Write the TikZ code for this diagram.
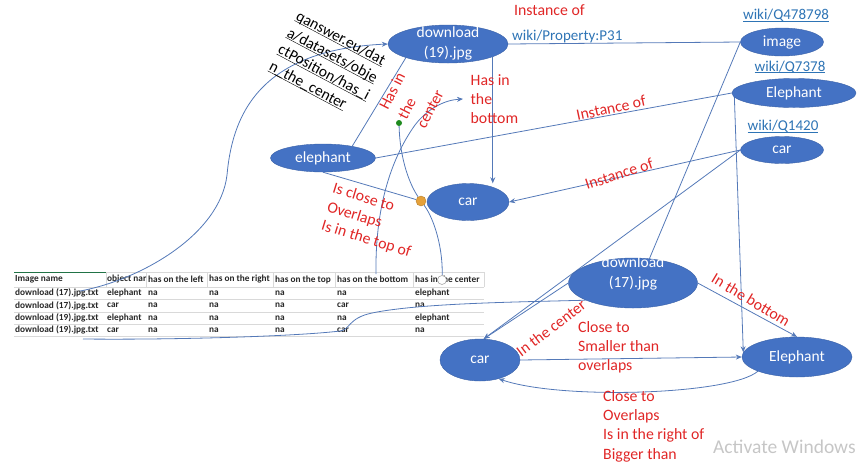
\documentclass[tikz,border=0pt]{standalone}
\usepackage{fontspec}
\setmainfont{Carlito}
\usetikzlibrary{shapes.geometric,arrows.meta}
\pgfdeclarelayer{bg}
\pgfsetlayers{bg,main}
\definecolor{entfill}{HTML}{4472C4}
\definecolor{wirecol}{HTML}{5479B8}
\definecolor{relred}{HTML}{E02626}
\definecolor{linkblue}{HTML}{2E74B5}
\definecolor{gridgrey}{HTML}{D9D9D9}
\definecolor{xlgreen}{HTML}{217346}
\definecolor{celltext}{HTML}{262626}
\definecolor{dotgreen}{HTML}{1E8A1E}
\definecolor{dotorange}{HTML}{E5A13A}
\newcommand\ulink[1]{\underline{\smash{#1}}}
\begin{document}
\begin{tikzpicture}[x=1pt,y=-1pt,
  ent/.style={ellipse, fill=entfill, draw=entfill!85!black, line width=0.4pt,
    inner sep=0pt, text=white, font=\fontsize{15.5}{20}\selectfont},
  enttext/.style={inner sep=0pt, text=white, align=center, font=\fontsize{15.5}{20}\selectfont},
  rel/.style={inner sep=0pt, text=relred, align=left, font=\fontsize{15.8}{19.4}\selectfont},
  link/.style={inner sep=0pt, text=linkblue, font=\fontsize{15}{18}\selectfont},
  wire/.style={draw=wirecol, line width=0.8pt},
  arr/.style={wire, -{Stealth[length=6pt,width=5pt]}},
  cell/.style={inner sep=0pt, anchor=west, text=celltext, font=\fontsize{9.3}{11}\selectfont\bfseries},
]
\useasboundingbox (0,0) rectangle (860,467);

% ---------- spreadsheet of detected positions ----------
\begin{pgfonlayer}{bg}
  \foreach \yy in {287,299,312,324,336}
    \draw[gridgrey, line width=0.6pt] (14,\yy) -- (484,\yy);
  \draw[gridgrey, line width=0.6pt] (106,272) -- (484,272);
  \draw[xlgreen, line width=0.9pt] (14,272) -- (106,272);
  \foreach \xx in {106,146,207,273,335,413,484}
    \draw[gridgrey, line width=0.6pt] (\xx,272) -- (\xx,287);
  \foreach \cx/\txt [count=\ci] in {15/Image name, 107/object nar, 148/has on the left,
      209/has on the right, 275/has on the top, 337/has on the bottom, 415/has in the center}
    \node[cell] (head-\ci) at (\cx,279.5) {\txt};
  \foreach \rowy/\rowimg/\rowobj/\rowbot/\rowcen [count=\rowi] in
      {293/{download (17).jpg.txt}/elephant/na/elephant,
       305.5/{download (17).jpg.txt}/car/car/na,
       318/{download (19).jpg.txt}/elephant/na/elephant,
       330/{download (19).jpg.txt}/car/car/na}{
    \node[cell] (cell-\rowi-1) at (15,\rowy) {\rowimg};
    \node[cell] (cell-\rowi-2) at (107,\rowy) {\rowobj};
    \node[cell] (cell-\rowi-3) at (148,\rowy) {na};
    \node[cell] (cell-\rowi-4) at (209,\rowy) {na};
    \node[cell] (cell-\rowi-5) at (275,\rowy) {na};
    \node[cell] (cell-\rowi-6) at (337,\rowy) {\rowbot};
    \node[cell] (cell-\rowi-7) at (415,\rowy) {\rowcen};
  }
\end{pgfonlayer}

% ---------- entities ----------
\node[ent, minimum width=120, minimum height=38] (dl19) at (448,44) {};
\node[enttext] (dl19t) at (448,43) {download\\(19).jpg};
\node[ent, minimum width=83, minimum height=28] (image) at (782,42) {image};
\node[ent, minimum width=124, minimum height=29] (ElephantW) at (794,93) {Elephant};
\node[ent, minimum width=83, minimum height=27] (carW) at (782,150) {car};
\node[ent, minimum width=105, minimum height=28] (elephant) at (323,158) {elephant};
\node[ent, minimum width=82, minimum height=37] (car1) at (468,202) {car};
\node[ent, minimum width=129, minimum height=50] (dl17) at (633,283) {};
\node[enttext] (dl17t) at (633,273) {download\\(17).jpg};
\node[ent, minimum width=80, minimum height=42] (car2) at (480,360) {car};
\node[ent, minimum width=110, minimum height=40] (Elephant2) at (797,357) {Elephant};

% markers
\node[circle, fill=dotgreen, minimum size=6pt, inner sep=0pt] (gdot) at (399,123) {};
\node[circle, fill=dotorange, draw=dotorange!80!black, line width=0.4pt,
      minimum size=10pt, inner sep=0pt] (odot) at (421,201) {};
\node[circle, fill=white, draw=gray!70, line width=0.6pt,
      minimum size=9pt, inner sep=0pt] (ocirc) at (442,280) {};

% free ends of the table connectors
\coordinate (t17) at (80,291);
\coordinate (t19) at (83,339);
\coordinate (hbot) at (376,274);
\coordinate (hbend) at (463,99);

% ---------- wikidata links ----------
\node[link, anchor=base] (q478798) at (786,19.5) {\ulink{wiki/Q478798}};
\node[link, anchor=base] (q7378) at (790,71) {\ulink{wiki/Q7378}};
\node[link, anchor=base] (q1420) at (783,130.5) {\ulink{wiki/Q1420}};
\node[link, anchor=base west] (p31) at (512,40.8) {wiki/Property:P31};

\node[inner sep=0pt, align=left, rotate=-28, anchor=north west,
      font=\fontsize{15.5}{19}\selectfont] (uri) at (295,19)
  {\ulink{qanswer.eu/dat}\\\ulink{a/datasets/obje}\\\ulink{ctPosition/has\_i}\\\ulink{n\_the\_center}};

% ---------- relation labels ----------
\node[rel, anchor=base west] (inst1) at (514,15) {Instance of};
\node[rel, rotate=12] (inst2) at (611,108) {Instance of};
\node[rel, rotate=18] (inst3) at (619,174) {Instance of};
\node[rel, rotate=63, anchor=north west, font=\fontsize{15.8}{21}\selectfont]
  (hasc) at (378,106) {Has in\\the\\center};
\node[rel, anchor=north west] (hasb) at (470.5,74) {Has in\\the\\bottom};
\node[rel, rotate=-17, anchor=north west] (near19) at (335,182) {Is close to\\Overlaps\\Is in the top of};
\node[rel, rotate=37] (cen17) at (551,328) {In the center};
\node[rel, rotate=-31] (bot17) at (751,300) {In the bottom};
\node[rel, anchor=north west] (c2e) at (578,321) {Close to\\Smaller than\\overlaps};
\node[rel, anchor=north west] (e2c) at (603,390) {Close to\\Overlaps\\Is in the right of\\Bigger than};

\node[inner sep=0pt, anchor=base west, text=gray!45,
      font=\fontsize{19.5}{23}\selectfont] (actw) at (713,453) {Activate Windows};

% ---------- connectors ----------
\begin{pgfonlayer}{bg}
  % instance-of links
  \draw[wire] (dl19.east) -- (image.west);
  \draw[wire] (elephant.east) -- (ElephantW.west);
  \draw[arr] (carW.west) -- (car1.east);
  \draw[arr] (carW.west) -- (car2.80);
  \draw[wire] (dl17.56) -- (image.west);
  \draw[arr] (ElephantW.184) -- (Elephant2.175);
  % relations in download (19).jpg
  \draw[arr] (dl19.-16) -- (dl19.-16 |- car1.north);
  \draw[wire] (elephant.22) -- (dl19.198);
  \draw[wire] (elephant.south) -- (odot);
  \draw[wire] (gdot) .. controls (400,160) and (410,185) .. (odot);
  \draw[wire] (odot) .. controls (435,220) and (443,250) .. (ocirc);
  \draw[arr] (hbot) .. controls (375,210) and (390,160) .. (415,125)
                    .. controls (428,108) and (445,100) .. (hbend);
  % relations in download (17).jpg
  \draw[arr] (dl17.west) -- (car2.80);
  \draw[arr] (dl17.east) -- (Elephant2.north);
  \draw[arr] (car2.east) -- (Elephant2.west);
  \draw[arr] (Elephant2.200) .. controls (730,395) and (560,400) .. (car2.315);
  % rows of the table to their images
  \draw[arr] (t17) .. controls (140,280) and (220,235) .. (227,175)
                   .. controls (232,120) and (255,50) .. (dl19.west);
  \draw[wire] (t19) .. controls (180,340) and (300,336) .. (340,331)
                    .. controls (350,330) and (348,318) .. (372,313)
                    .. controls (420,303) and (520,302) .. (dl17.200);
\end{pgfonlayer}
\end{tikzpicture}
\end{document}
